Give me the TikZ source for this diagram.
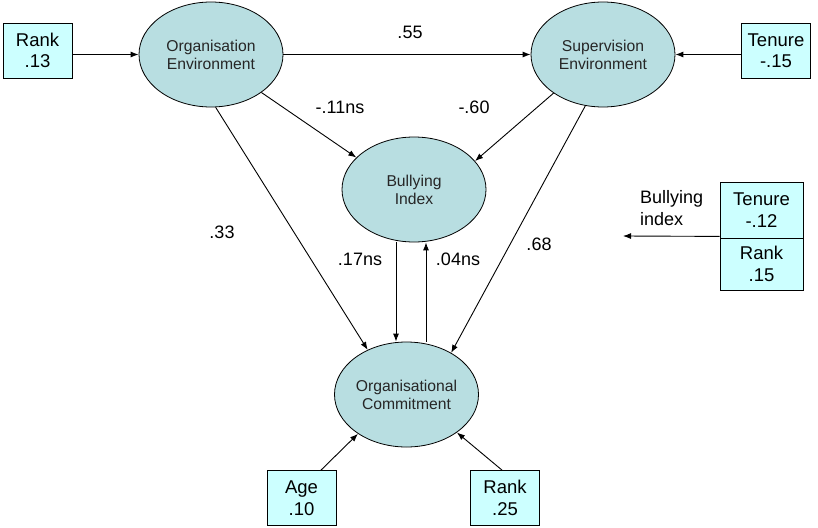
\documentclass[tikz,border=0pt]{standalone}
\usepackage{fontspec}
\setmainfont{Liberation Sans}
\usetikzlibrary{arrows.meta,shapes.geometric}
\definecolor{ellfill}{RGB}{184,222,225}
\definecolor{boxfill}{RGB}{204,255,255}
\begin{document}
\begin{tikzpicture}[x=1pt,y=-1pt,
  latent/.style={ellipse,draw=black,line width=0.8pt,fill=ellfill,minimum width=144pt,minimum height=105pt,inner sep=0pt,align=center,text=black!85,font=\fontsize{15.7}{18}\selectfont},
  obs/.style={rectangle,draw=black,line width=0.8pt,fill=boxfill,minimum width=69pt,minimum height=55pt,inner sep=0pt,align=center,font=\fontsize{18.5}{21.5}\selectfont},
  arr/.style={line width=0.9pt,-{Latex[length=8pt,width=6pt]}},
  lbl/.style={font=\fontsize{18}{21}\selectfont,inner sep=0pt}]
\useasboundingbox (0,0) rectangle (818,527);
% latent variables
\node[latent] (oe) at (211,54.5) {Organisation\\Environment};
\node[latent] (se) at (603,54.5) {Supervision\\Environment};
\node[latent] (bi) at (414,189.5) {Bullying\\Index};
\node[latent] (oc) at (406.5,394.5) {Organisational\\Commitment};
% observed
\node[obs] (rk1) at (37.5,50.5) {Rank\\.13};
\node[obs] (ten1) at (776,50.5) {Tenure\\-.15};
\node[obs] (age) at (301.5,498) {Age\\.10};
\node[obs] (rk2) at (505,498) {Rank\\.25};
\node[obs,minimum width=83pt,minimum height=56pt] (ten2) at (761.5,210) {Tenure\\-.12};
\node[obs,minimum width=83pt,minimum height=52pt] (rk3) at (761.5,264) {Rank\\.15};
\coordinate (biend) at (623,236);
% connectors
\draw[arr] (rk1.east |- oe.west) -- (oe.west);
\draw[arr] (oe.east) -- (se.west);
\draw[arr] (ten1.west |- se.east) -- (se.east);
\draw[arr] (oe.-37.8) -- (bi.151.5);
\draw[arr] (se.-142.8) -- (bi.25.5);
\draw[arr] (oe.-85.7) -- (oc.131.1);
\draw[arr] (se.-109.7) -- (oc.43.6);
\draw[arr] ([xshift=-18pt]bi.south) -- ([xshift=-10.5pt]oc.north);
\draw[arr] ([xshift=19.5pt]oc.north) -- ([xshift=12pt]bi.south);
\draw[arr] ([xshift=19.5pt]age.north) -- (oc.-141.6);
\draw[arr] ([xshift=-3pt]rk2.north) -- (oc.-37.3);
\draw[arr] ([yshift=2pt]ten2.south west) -- (biend);
% labels
\node[lbl] (l55) at (410,32) {.55};
\node[lbl] (l11) at (340,107) {-.11ns};
\node[lbl] (l60) at (474,107) {-.60};
\node[lbl] (l33) at (222,232) {.33};
\node[lbl] (l68) at (539,244) {.68};
\node[lbl] (l17) at (360,259) {.17ns};
\node[lbl] (l04) at (458,259) {.04ns};
\node[lbl,anchor=north west,align=left,font=\fontsize{18}{22}\selectfont] (bidx) at (640,190) {Bullying\\index};
\end{tikzpicture}
\end{document}
